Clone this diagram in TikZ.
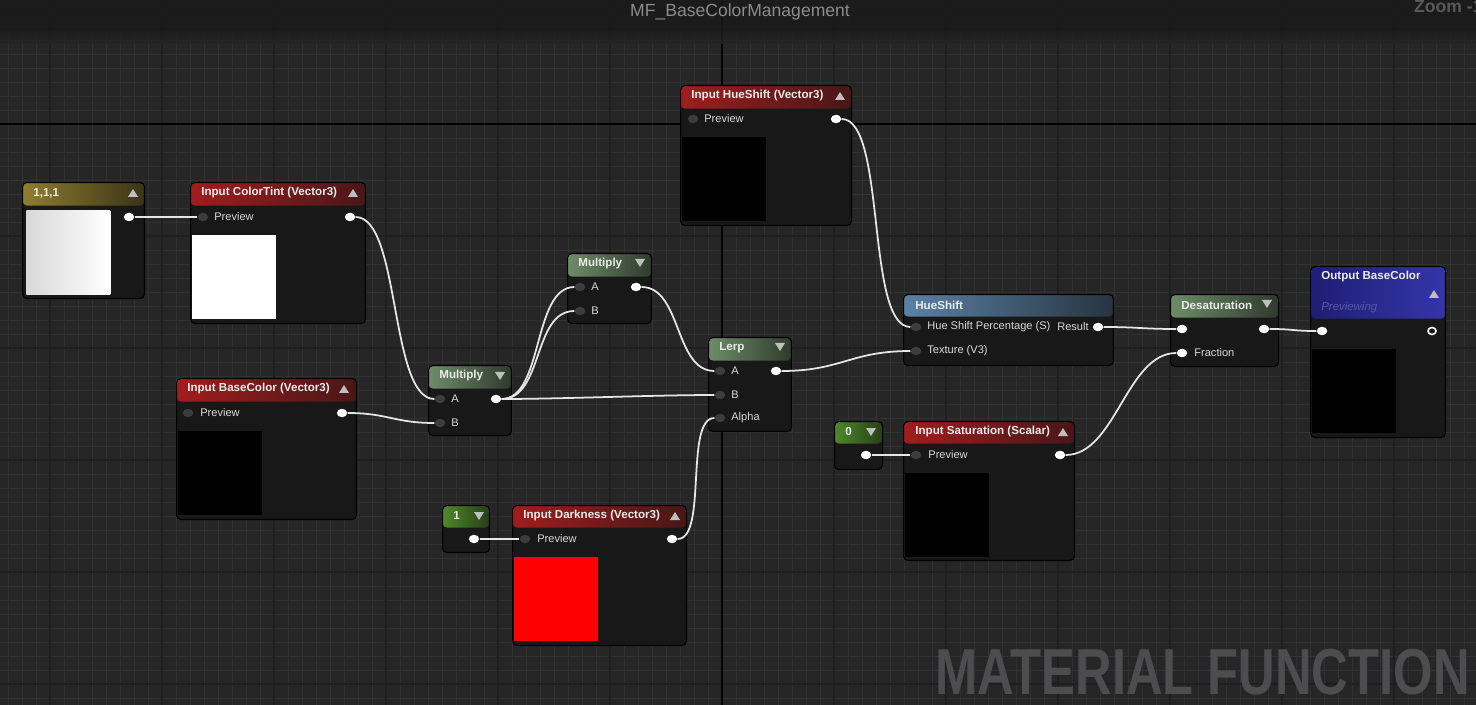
\documentclass[tikz,border=0pt]{standalone}
\usepackage{fontspec}
\setmainfont{Liberation Sans}
\usetikzlibrary{arrows.meta, positioning, shapes.geometric}

\definecolor{canvas}{HTML}{262626}
\definecolor{gridminor}{HTML}{313131}
\definecolor{gridmajor}{HTML}{1F1F1F}
\definecolor{topbar}{HTML}{1A1A1A}
\definecolor{nodebody}{HTML}{181818}
\definecolor{redL}{HTML}{A11D1D}
\definecolor{redR}{HTML}{481717}
\definecolor{greenL}{HTML}{6E8C69}
\definecolor{greenR}{HTML}{2F3B2D}
\definecolor{constL}{HTML}{4E8A2A}
\definecolor{constR}{HTML}{263F17}
\definecolor{oliveL}{HTML}{8F7D2F}
\definecolor{oliveR}{HTML}{3A3418}
\definecolor{blueL}{HTML}{5A82A6}
\definecolor{blueR}{HTML}{27343F}
\definecolor{outL}{HTML}{1E1E74}
\definecolor{outR}{HTML}{3535AA}
\definecolor{pingray}{HTML}{3C3C3C}
\definecolor{wirecol}{HTML}{E6E6E6}
\definecolor{hinttext}{HTML}{8C8C8C}
\definecolor{bigtext}{HTML}{4D4D4F}

\begin{document}
\begin{tikzpicture}[
    x=0.02cm, y=-0.02cm,
    every node/.style={font=\fontsize{6.3}{7}\selectfont},
    matnode/.style={draw=black, fill=nodebody, rounded corners=2.5pt, inner sep=0pt, anchor=north west, line width=0.6pt},
    header/.style n args={3}{path picture={\shade[left color=#1, right color=#2]
        (path picture bounding box.north west) rectangle ([yshift=-#3]path picture bounding box.north east);}},
    title/.style={anchor=west, inner sep=0pt, text=white!92!black, font=\fontsize{6.6}{7}\selectfont\bfseries},
    pinlabel/.style={anchor=west, inner sep=0pt, text=white!85!black},
    swatch/.style={anchor=north west, inner sep=0pt, minimum size=1.68cm},
    outpin/.style={ellipse, fill=white, inner sep=0pt, minimum width=0.21cm, minimum height=0.17cm},
    inpin/.style={ellipse, fill=pingray, inner sep=0pt, minimum width=0.21cm, minimum height=0.17cm},
    wire/.style={draw=wirecol, line width=1pt},
    arrowtri/.style={fill=white!75!black}
]
\useasboundingbox (0,0) rectangle (1476,705);

% ============ CANVAS ============
\fill[canvas] (0,0) rectangle (1476,705);
\foreach \gx in {8,22,...,1476} \draw[gridminor, line width=0.5pt] (\gx,0) -- (\gx,705);
\foreach \gy in {12,26,...,705} \draw[gridminor, line width=0.5pt] (0,\gy) -- (1476,\gy);
\foreach \gx in {50,162,...,1476} \draw[gridmajor, line width=0.6pt] (\gx,0) -- (\gx,705);
\foreach \gy in {12,124,...,705} \draw[gridmajor, line width=0.6pt] (0,\gy) -- (1476,\gy);
\draw[black, line width=0.9pt] (722,0) -- (722,705);
\draw[black, line width=0.9pt] (0,124) -- (1476,124);

% top bar
\fill[topbar, opacity=0.88] (0,0) rectangle (1476,30);
\shade[top color=topbar, bottom color=canvas, opacity=0.8] (0,30) rectangle (1476,44);
\node[text=hinttext, font=\fontsize{10}{11}\selectfont] (graphname) at (740,12) {MF\_BaseColorManagement};
\node[anchor=west, text=white!35!black, font=\fontsize{10}{11}\selectfont\bfseries] (zoomtag) at (1408,7) {Zoom -1};

% ============ CONSTANT 1,1,1 ============
\node[matnode, header={oliveL}{oliveR}{0.46cm}, minimum width=2.44cm, minimum height=2.32cm] (c111) at (22,182) {};
\node[title] (c111-t) at (33,193) {1,1,1};
\fill[arrowtri] (128,197) -- ++(10,0) -- ++(-5,-8) -- cycle;
\node[swatch, left color=white!85!black, right color=white] (c111-sw) at (26,210) {};
\node[outpin] (c111-out) at (129,217) {};

% ============ INPUT COLORTINT ============
\node[matnode, header={redL}{redR}{0.46cm}, minimum width=3.5cm, minimum height=2.82cm] (ctint) at (190,182) {};
\node[title] (ctint-t) at (201,193) {Input ColorTint (Vector3)};
\fill[arrowtri] (348,197) -- ++(10,0) -- ++(-5,-8) -- cycle;
\node[inpin] (ctint-in) at (203,217) {};
\node[pinlabel] (ctint-l) at (214,217) {Preview};
\node[outpin] (ctint-out) at (350,217) {};
\node[swatch, fill=white] (ctint-sw) at (192,235) {};

% ============ INPUT BASECOLOR ============
\node[matnode, header={redL}{redR}{0.46cm}, minimum width=3.6cm, minimum height=2.82cm] (bcol) at (176,378) {};
\node[title] (bcol-t) at (187,389) {Input BaseColor (Vector3)};
\fill[arrowtri] (339,393) -- ++(10,0) -- ++(-5,-8) -- cycle;
\node[inpin] (bcol-in) at (188,413) {};
\node[pinlabel] (bcol-l) at (200,413) {Preview};
\node[outpin] (bcol-out) at (342,413) {};
\node[swatch, fill=black] (bcol-sw) at (178,431) {};

% ============ MULTIPLY (lower) ============
\node[matnode, header={greenL}{greenR}{0.46cm}, minimum width=1.66cm, minimum height=1.4cm] (mul1) at (428,365) {};
\node[title] (mul1-t) at (439,376) {Multiply};
\fill[arrowtri] (495,372) -- ++(10,0) -- ++(-5,8) -- cycle;
\node[inpin] (mul1-a) at (440,399) {};
\node[inpin] (mul1-b) at (440,423) {};
\node[pinlabel] (mul1-la) at (451,399) {A};
\node[pinlabel] (mul1-lb) at (451,423) {B};
\node[outpin] (mul1-out) at (496,399) {};

% ============ MULTIPLY (upper) ============
\node[matnode, header={greenL}{greenR}{0.46cm}, minimum width=1.68cm, minimum height=1.4cm] (mul2) at (567,253) {};
\node[title] (mul2-t) at (578,264) {Multiply};
\fill[arrowtri] (635,259) -- ++(10,0) -- ++(-5,8) -- cycle;
\node[inpin] (mul2-a) at (580,287) {};
\node[inpin] (mul2-b) at (580,311) {};
\node[pinlabel] (mul2-la) at (591,287) {A};
\node[pinlabel] (mul2-lb) at (591,311) {B};
\node[outpin] (mul2-out) at (636,287) {};

% ============ LERP ============
\node[matnode, header={greenL}{greenR}{0.46cm}, minimum width=1.66cm, minimum height=1.88cm] (lerp) at (708,337) {};
\node[title] (lerp-t) at (719,348) {Lerp};
\fill[arrowtri] (775,343) -- ++(10,0) -- ++(-5,8) -- cycle;
\node[inpin] (lerp-a) at (720,371) {};
\node[inpin] (lerp-b) at (720,395) {};
\node[inpin] (lerp-alpha) at (720,418) {};
\node[pinlabel] (lerp-la) at (731,371) {A};
\node[pinlabel] (lerp-lb) at (731,395) {B};
\node[pinlabel] (lerp-lalpha) at (731,418) {Alpha};
\node[outpin] (lerp-out) at (776,371) {};

% ============ INPUT HUESHIFT ============
\node[matnode, header={redL}{redR}{0.46cm}, minimum width=3.42cm, minimum height=2.8cm] (hsin) at (680,85) {};
\node[title] (hsin-t) at (691,96) {Input HueShift (Vector3)};
\fill[arrowtri] (835,100) -- ++(10,0) -- ++(-5,-8) -- cycle;
\node[inpin] (hsin-in) at (693,119) {};
\node[pinlabel] (hsin-l) at (704,119) {Preview};
\node[outpin] (hsin-out) at (836,119) {};
\node[swatch, fill=black] (hsin-sw) at (682,137) {};

% ============ HUESHIFT ============
\node[matnode, header={blueL}{blueR}{0.44cm}, minimum width=4.2cm, minimum height=1.42cm] (hshift) at (903,294) {};
\node[title] (hshift-t) at (915,305) {HueShift};
\node[inpin] (hshift-pct) at (916,327) {};
\node[inpin] (hshift-tex) at (916,351) {};
\node[pinlabel] (hshift-lpct) at (927,327) {Hue Shift Percentage (S)};
\node[pinlabel] (hshift-ltex) at (927,351) {Texture (V3)};
\node[pinlabel, anchor=east] (hshift-lres) at (1089,327) {Result};
\node[outpin] (hshift-out) at (1098,327) {};

% ============ DESATURATION ============
\node[matnode, header={greenL}{greenR}{0.46cm}, minimum width=2.16cm, minimum height=1.44cm] (desat) at (1170,294) {};
\node[title] (desat-t) at (1181,305) {Desaturation};
\fill[arrowtri] (1262,300) -- ++(10,0) -- ++(-5,8) -- cycle;
\node[outpin] (desat-in) at (1182,329) {};
\node[outpin] (desat-frac) at (1182,353) {};
\node[pinlabel] (desat-lfrac) at (1194,353) {Fraction};
\node[outpin] (desat-out) at (1264,329) {};

% ============ OUTPUT BASECOLOR ============
\node[matnode, header={outL}{outR}{1.04cm}, minimum width=2.7cm, minimum height=3.42cm] (outbc) at (1310,266) {};
\node[title] (outbc-t) at (1321,277) {Output BaseColor};
\fill[arrowtri] (1429,298) -- ++(10,0) -- ++(-5,-8) -- cycle;
\node[pinlabel, text=blue!30!gray, font=\fontsize{6.5}{7}\selectfont\itshape] (outbc-prev) at (1321,308) {Previewing};
\node[outpin] (outbc-in) at (1322,331) {};
\node[outpin, fill=nodebody, draw=white, line width=0.9pt, minimum width=0.16cm, minimum height=0.14cm] (outbc-out) at (1432,331) {};
\node[swatch, fill=black] (outbc-sw) at (1312,349) {};

% ============ CONSTANT 0 ============
\node[matnode, header={constL}{constR}{0.44cm}, minimum width=0.96cm, minimum height=0.96cm] (c0) at (834,421) {};
\node[title] (c0-t) at (845,432) {0};
\fill[arrowtri] (866,428) -- ++(10,0) -- ++(-5,8) -- cycle;
\node[outpin] (c0-out) at (866,455) {};

% ============ INPUT SATURATION ============
\node[matnode, header={redL}{redR}{0.44cm}, minimum width=3.42cm, minimum height=2.78cm] (sat) at (903,421) {};
\node[title] (sat-t) at (915,432) {Input Saturation (Scalar)};
\fill[arrowtri] (1058,436) -- ++(10,0) -- ++(-5,-8) -- cycle;
\node[inpin] (sat-in) at (916,455) {};
\node[pinlabel] (sat-l) at (928,455) {Preview};
\node[outpin] (sat-out) at (1060,455) {};
\node[swatch, fill=black] (sat-sw) at (905,473) {};

% ============ CONSTANT 1 ============
\node[matnode, header={constL}{constR}{0.44cm}, minimum width=0.94cm, minimum height=0.94cm] (c1) at (442,505) {};
\node[title] (c1-t) at (453,516) {1};
\fill[arrowtri] (474,512) -- ++(10,0) -- ++(-5,8) -- cycle;
\node[outpin] (c1-out) at (474,539) {};

% ============ INPUT DARKNESS ============
\node[matnode, header={redL}{redR}{0.44cm}, minimum width=3.48cm, minimum height=2.8cm] (dark) at (512,505) {};
\node[title] (dark-t) at (523,516) {Input Darkness (Vector3)};
\fill[arrowtri] (670,520) -- ++(10,0) -- ++(-5,-8) -- cycle;
\node[inpin] (dark-in) at (525,539) {};
\node[pinlabel] (dark-l) at (537,539) {Preview};
\node[outpin] (dark-out) at (672,539) {};
\node[swatch, fill=red] (dark-sw) at (514,557) {};

% ============ WIRES ============
\draw[wire] (c111-out.east) .. controls +(15,0) and +(-15,0) .. (ctint-in.west);
\draw[wire] (ctint-out.east) .. controls +(45,0) and +(-45,0) .. (mul1-a.west);
\draw[wire] (bcol-out.east) .. controls +(40,0) and +(-40,0) .. (mul1-b.west);
\draw[wire] (mul1-out.east) .. controls +(42,0) and +(-42,0) .. (mul2-a.west);
\draw[wire] (mul1-out.east) .. controls +(42,0) and +(-42,0) .. (mul2-b.west);
\draw[wire] (mul1-out.east) .. controls +(60,0) and +(-60,0) .. (lerp-b.west);
\draw[wire] (mul2-out.east) .. controls +(40,0) and +(-40,0) .. (lerp-a.west);
\draw[wire] (c1-out.east) .. controls +(15,0) and +(-15,0) .. (dark-in.west);
\draw[wire] (dark-out.east) .. controls +(30,0) and +(-30,0) .. (lerp-alpha.west);
\draw[wire] (lerp-out.east) .. controls +(60,0) and +(-60,0) .. (hshift-tex.west);
\draw[wire] (hsin-out.east) .. controls +(45,0) and +(-45,0) .. (hshift-pct.west);
\draw[wire] (hshift-out.east) .. controls +(35,0) and +(-35,0) .. (desat-in.west);
\draw[wire] (c0-out.east) .. controls +(15,0) and +(-15,0) .. (sat-in.west);
\draw[wire] (sat-out.east) .. controls +(50,0) and +(-50,0) .. (desat-frac.west);
\draw[wire] (desat-out.east) .. controls +(25,0) and +(-25,0) .. (outbc-in.west);

% ============ WATERMARK ============
\node[anchor=south east, inner sep=0pt, text=bigtext, xscale=0.78,
      font=\fontsize{37}{37}\selectfont\bfseries] (watermark) at (1470,695) {MATERIAL FUNCTION};

\end{tikzpicture}
\end{document}
